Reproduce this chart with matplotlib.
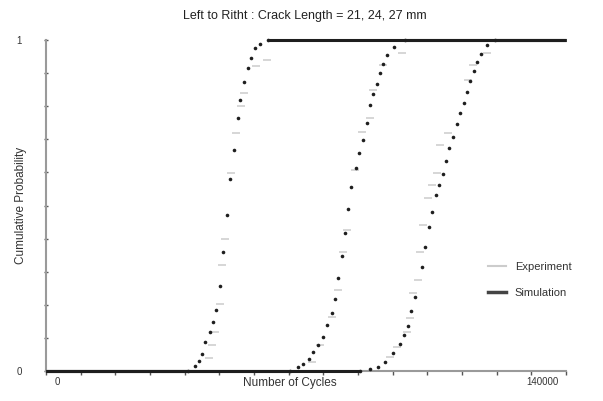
import numpy as np
import matplotlib
matplotlib.use("Agg")
import matplotlib.pyplot as plt
import matplotlib.transforms as mtransforms
from matplotlib.lines import Line2D

plt.rcParams['font.family'] = ['Liberation Sans', 'DejaVu Sans']

# simulation curves (cycles, cumulative probability)
sim_21_x = [40960, 42980, 44130, 45000, 45870, 47310, 48170, 49040, 50190, 51060,
            52210, 53080, 54230, 55380, 55960, 57110, 58270, 59130, 60290, 61730, 64040]
sim_21_y = [0.0, 0.015, 0.03, 0.051, 0.088, 0.118, 0.148, 0.184, 0.257, 0.36,
            0.471, 0.58, 0.668, 0.764, 0.819, 0.873, 0.915, 0.946, 0.976, 0.988, 1.0]

sim_24_x = [70380, 72690, 74130, 75870, 77020, 78460, 79900, 81060, 82500, 83370,
            84230, 85390, 86250, 87120, 87980, 89420, 90290, 91440, 92600, 93460,
            94330, 95480, 96340, 97210, 98360, 100380, 103560]
sim_24_y = [0.0, 0.012, 0.021, 0.036, 0.057, 0.079, 0.103, 0.139, 0.175, 0.218,
            0.281, 0.347, 0.417, 0.489, 0.556, 0.613, 0.659, 0.698, 0.749, 0.804,
            0.837, 0.867, 0.9, 0.927, 0.955, 0.979, 1.0]

sim_27_x = [90580, 93460, 95770, 97790, 100100, 102110, 103270, 104420, 105290, 106440,
            108460, 109330, 110480, 111350, 112500, 113370, 114520, 115380, 116250, 117400,
            118560, 119420, 120580, 121440, 122310, 123460, 124330, 125480, 127210, 129520]
sim_27_y = [0.0, 0.006, 0.012, 0.027, 0.054, 0.082, 0.109, 0.136, 0.181, 0.224,
            0.314, 0.375, 0.435, 0.48, 0.532, 0.562, 0.595, 0.634, 0.674, 0.707,
            0.746, 0.779, 0.81, 0.843, 0.876, 0.906, 0.934, 0.958, 0.985, 1.0]

# experiment points
exp_21_x = [47020, 47880, 48750, 50190, 50770, 51630, 53370, 54810, 56250, 57120, 60580, 63750]
exp_21_y = [0.039, 0.079, 0.118, 0.202, 0.32, 0.399, 0.598, 0.719, 0.801, 0.84, 0.921, 0.94]

exp_24_x = [76730, 79040, 82500, 84230, 85670, 86830, 89130, 91150, 93460, 94330, 97210, 102690]
exp_24_y = [0.027, 0.079, 0.163, 0.245, 0.36, 0.426, 0.607, 0.722, 0.764, 0.849, 0.924, 0.961]

exp_27_x = [99230, 101250, 104130, 105000, 105870, 107310, 107880, 108750, 110190, 111350,
            112790, 113650, 115960, 121730, 123170, 127210]
exp_27_y = [0.042, 0.073, 0.118, 0.16, 0.236, 0.275, 0.36, 0.441, 0.523, 0.562,
            0.598, 0.683, 0.719, 0.879, 0.924, 0.961]

x_min, x_max = 0, 150000
x_ticks = np.arange(0, 150001, 10000)
y_ticks = np.arange(0, 1.01, 0.1)

sim_color = '#1e1e1e'
exp_color = '#cccccc'
axis_color = '#9a9a9a'

fig = plt.figure(figsize=(6.03, 4.01), dpi=100)
ax = fig.add_axes([46 / 603, 30 / 401, 520 / 603, 331 / 401])

# experiment first so simulation sits on top
for ex, ey in [(exp_21_x, exp_21_y), (exp_24_x, exp_24_y), (exp_27_x, exp_27_y)]:
    ax.plot(ex, ey, ls='none', marker='_', ms=6, mew=1.1, color=exp_color)

for sx, sy in [(sim_21_x, sim_21_y), (sim_24_x, sim_24_y), (sim_27_x, sim_27_y)]:
    ax.plot([x_min, sx[0]], [sy[0], sy[0]], color=sim_color, lw=2.2,
            solid_capstyle='butt', clip_on=False, zorder=4)
    ax.plot([sx[-1], x_max], [sy[-1], sy[-1]], color=sim_color, lw=2.2,
            solid_capstyle='butt', clip_on=False, zorder=4)
    ax.plot(sx, sy, ls='none', marker='o', ms=2.6, mew=0, color=sim_color,
            clip_on=False, zorder=4)

ax.set_xlim(x_min, x_max)
ax.set_ylim(0, 1)

for side in ['top', 'right']:
    ax.spines[side].set_visible(False)
for side in ['left', 'bottom']:
    ax.spines[side].set_color(axis_color)
    ax.spines[side].set_linewidth(1.5)

ax.set_xticks(x_ticks)
ax.set_xticklabels(['0'] + [''] * 13 + ['140000', ''])
ax.set_yticks(y_ticks)
ax.set_yticklabels(['0'] + [''] * 9 + ['1'])
ax.tick_params(axis='x', direction='out', length=3, width=1, color='#555555',
               labelsize=7, pad=1, labelcolor='#333333')
ax.tick_params(axis='y', direction='inout', length=3, width=1, color='#555555',
               labelsize=7, pad=16, labelcolor='#333333')

# shift the x tick labels a bit right, like the original
offset = mtransforms.ScaledTranslation(11 / 100, 0, fig.dpi_scale_trans)
for lbl in ax.get_xticklabels():
    lbl.set_transform(lbl.get_transform() + offset)

ax.set_xlabel('Number of Cycles', fontsize=8.5, color='#333333')
ax.xaxis.set_label_coords(244 / 520, -12 / 331)
ax.xaxis.label.set_va('center')
ax.set_ylabel('Cumulative Probability', fontsize=8.5, color='#333333')
ax.yaxis.set_label_coords(-25 / 520, 0.5)
ax.yaxis.label.set_va('center')

fig.text(305 / 603, 1 - 16 / 401, 'Left to Ritht : Crack Length = 21, 24, 27 mm',
         ha='center', va='center', fontsize=9, color='#222222')

handles = [Line2D([], [], color=exp_color, lw=1.5),
           Line2D([], [], color='#444444', lw=2.5)]
fig.legend(handles, ['Experiment', 'Simulation'], loc='center left',
           bbox_to_anchor=(478 / 603, 1 - 280 / 401), frameon=False, fontsize=8,
           handlelength=1.6, handletextpad=0.8, labelspacing=1.5, labelcolor='#333333')

fig.savefig('out.png', dpi=100)
